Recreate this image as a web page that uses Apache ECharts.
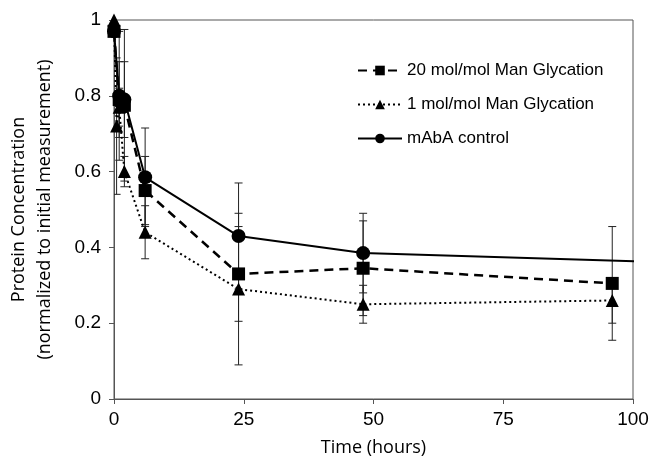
<!DOCTYPE html>
<html>
<head>
<meta charset="utf-8">
<script src="https://cdn.jsdelivr.net/npm/echarts@6/dist/echarts.min.js"></script>
<style>
  html, body { margin: 0; padding: 0; background: #fff; }
  #chart { width: 652px; height: 458px; }
</style>
</head>
<body>
<div id="chart"></div>
<script>
// time points (hours), means and error (+/-)
var hours20 = [0, 1, 2, 6, 24, 48, 96];
var mean20 = [0.97, 0.79, 0.775, 0.55, 0.33, 0.345, 0.305];
var err20 = [0, 0.1, 0.2, 0.09, 0.125, 0.125, 0.15];

var hours1 = [0, 0.5, 1, 2, 6, 24, 48, 96];
var mean1 = [1.0, 0.72, 0.77, 0.6, 0.44, 0.29, 0.25, 0.26];
var err1 = [0, 0.18, 0.05, 0.04, 0.07, 0.2, 0.05, 0.06];

var hoursCtl = [0, 1, 2, 6, 24, 48, 120];
var meanCtl = [0.97, 0.8, 0.79, 0.585, 0.43, 0.385, 0.355];
var errCtl = [0, 0.17, 0.1, 0.13, 0.14, 0.105, 0];

var xTicks = [0, 25, 50, 75, 100];
var yTicks = [0, 0.2, 0.4, 0.6, 0.8, 1];

var FONT = "Liberation Sans";
var NAME_FONT = "Open Sans";

function pts(h, m) {
  return h.map(function (t, i) { return [t, m[i]]; });
}
function bars(h, m, e) {
  return h.map(function (t, i) { return [t, m[i] - e[i], m[i] + e[i]]; });
}

function renderBar(params, api) {
  var lo = api.coord([api.value(0), api.value(1)]);
  var hi = api.coord([api.value(0), api.value(2)]);
  if (Math.abs(hi[1] - lo[1]) < 0.5) return;
  var w = 4;
  var st = { stroke: "#222", lineWidth: 1 };
  return {
    type: "group",
    children: [
      { type: "line", shape: { x1: lo[0], y1: hi[1], x2: lo[0], y2: lo[1] }, style: st },
      { type: "line", shape: { x1: lo[0] - w, y1: hi[1], x2: lo[0] + w, y2: hi[1] }, style: st },
      { type: "line", shape: { x1: lo[0] - w, y1: lo[1], x2: lo[0] + w, y2: lo[1] }, style: st }
    ]
  };
}

var chart = echarts.init(document.getElementById("chart"), null, { renderer: "canvas" });

var option = {
  animation: false,
  textStyle: { fontFamily: FONT },
  grid: {
    left: 114, right: 19, top: 20, bottom: 59,
    containLabel: false, outerBoundsMode: "none",
    show: true, borderColor: "#555", borderWidth: 1
  },
  legend: {
    orient: "vertical",
    left: 352, top: 57,
    itemWidth: 44, itemHeight: 12, itemGap: 17,
    textStyle: { fontFamily: FONT, fontSize: 17, color: "#000" },
    data: ["20 mol/mol Man Glycation", "1 mol/mol Man Glycation", "mAbA control"]
  },
  xAxis: {
    type: "value",
    min: 0, max: 100, interval: 25,
    name: "Time (hours)",
    nameLocation: "middle",
    nameGap: 40,
    nameTextStyle: { fontFamily: NAME_FONT, fontSize: 18, color: "#000" },
    axisLine: { lineStyle: { color: "#555" } },
    axisTick: { show: true, length: 5, lineStyle: { color: "#555" } },
    axisLabel: { fontSize: 19, color: "#000", margin: 11,
      formatter: function (v) { return xTicks.indexOf(v) >= 0 ? String(v) : ""; } },
    splitLine: { show: false }
  },
  yAxis: {
    type: "value",
    min: 0, max: 1, interval: 0.2,
    name: "Protein Concentration\n(normalized to initial measurement)",
    nameLocation: "middle",
    nameRotate: 90,
    nameGap: 56,
    nameTextStyle: { fontFamily: NAME_FONT, fontSize: 18, color: "#000", lineHeight: 26 },
    axisLine: { show: true, lineStyle: { color: "#555" } },
    axisTick: { show: true, length: 5, lineStyle: { color: "#555" } },
    axisLabel: { fontSize: 19, color: "#000", margin: 13,
      formatter: function (v) {
        var k = yTicks.findIndex(function (t) { return Math.abs(t - v) < 1e-6; });
        return k >= 0 ? String(yTicks[k]) : "";
      } },
    splitLine: { show: false }
  },
  series: [
    {
      type: "custom", renderItem: renderBar, clip: true, z: 1,
      encode: { x: 0, y: [1, 2] }, data: bars(hours20, mean20, err20)
    },
    {
      type: "custom", renderItem: renderBar, clip: true, z: 1,
      encode: { x: 0, y: [1, 2] }, data: bars(hours1, mean1, err1)
    },
    {
      type: "custom", renderItem: renderBar, clip: true, z: 1,
      encode: { x: 0, y: [1, 2] }, data: bars(hoursCtl, meanCtl, errCtl)
    },
    {
      name: "20 mol/mol Man Glycation",
      type: "line", z: 3,
      data: pts(hours20, mean20),
      symbol: "rect", symbolSize: 13,
      itemStyle: { color: "#000" },
      lineStyle: { color: "#000", width: 2.5, type: [9, 6] }
    },
    {
      name: "1 mol/mol Man Glycation",
      type: "line", z: 3,
      data: pts(hours1, mean1),
      symbol: "triangle", symbolSize: 13,
      itemStyle: { color: "#000" },
      lineStyle: { color: "#000", width: 2, type: [2, 3] }
    },
    {
      name: "mAbA control",
      type: "line", z: 3,
      data: pts(hoursCtl, meanCtl),
      symbol: "circle", symbolSize: 14,
      itemStyle: { color: "#000" },
      lineStyle: { color: "#000", width: 2, type: "solid" }
    }
  ]
};

chart.setOption(option);
</script>
</body>
</html>
